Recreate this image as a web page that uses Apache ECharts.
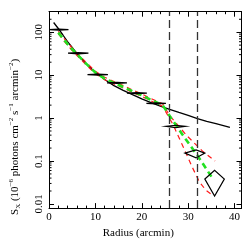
<!DOCTYPE html>
<html><head><meta charset="utf-8">
<script src="https://cdn.jsdelivr.net/npm/echarts@6/dist/echarts.min.js"></script>
<style>html,body{margin:0;padding:0;background:#fff}#c{width:245px;height:244px}</style>
</head><body><div id="c"></div>
<script>
// ---- data ----
const xTickLabels = ['0', '10', '20', '30', '40'];
const yTickLabels = ['0.01', '0.1', '1', '10', '100'];
const yMinorTicks = [0.02,0.03,0.04,0.05,0.06,0.07,0.08,0.09,
                     0.2,0.3,0.4,0.5,0.6,0.7,0.8,0.9,
                     2,3,4,5,6,7,8,9,
                     20,30,40,50,60,70,80,90,200];
const vLines = [26, 32];

// black model curve
const modelX = [1,2,3,4,5,6,7,8,9,10,12,14,16,18,20,22,24,26,28,30,32,34,36,38,39];
const modelY = [168,122,86,60,44,32,24,18.5,14.5,11.6,7.9,5.7,4.4,3.5,2.8,2.3,1.9,1.6,1.35,1.15,0.97,0.84,0.74,0.65,0.61];

// green best-fit (dashed)
const fitX = [2,3,4,5,6,7,8,10,12,14,16,18,20,22,24.5,26.4,29.4,32.1,35.5];
const fitY = [98,72,53,40,31,24,18.5,11.5,8.3,6.6,5.3,4.2,3.4,2.65,2.0,0.97,0.33,0.13,0.036];

// red upper bound (dashed)
const upX = [2,3,4,5,6,7,8,10,12,14,16,18,20,22,24.5,26,29.7,33.1,35.8];
const upY = [104,77,57,43,33,25.7,19.8,12.3,8.9,7.1,5.7,4.5,3.65,2.85,2.15,1.15,0.39,0.17,0.10];

// red lower bound (dashed)
const loX = [2,3,4,5,6,7,8,10,12,14,16,18,20,22,24.5,26.7,28.3,29.7,30.8,32.4,33.8,35.5];
const loY = [92,67.5,49.5,37.5,29,22.5,17.3,10.8,7.8,6.2,5.0,3.95,3.2,2.5,1.88,0.72,0.3,0.14,0.075,0.033,0.021,0.0153];

// measured points: diamonds (x range, y range)
const ptXLo = [0, 4.1, 8.3, 12.5, 16.8, 21.0, 25.2, 29.3, 33.6];
const ptX   = [2.1, 6.3, 10.5, 14.65, 18.95, 23.1, 27.3, 31.7, 35.7];
const ptXHi = [4.2, 8.5, 12.7, 16.8, 21.1, 25.2, 29.4, 33.6, 37.8];
const ptY   = [115, 32.4, 10.3, 6.6, 3.8, 2.2, 0.64, 0.153, 0.038];
const ptYLo = [112, 31.4, 10.0, 6.4, 3.7, 2.13, 0.60, 0.118, 0.0153];
const ptYHi = [118, 33.4, 10.6, 6.8, 3.9, 2.27, 0.68, 0.182, 0.061];

// ---- chart ----
const FONT = 'Liberation Serif';
const chart = echarts.init(document.getElementById('c'), null, {renderer: 'canvas'});
const zip = (a, b) => a.map((v, i) => [v, b[i]]);
const near = (v, s) => Math.abs(v - Number(s)) < 1e-6 * Math.max(1, Math.abs(v));

const axLine = {show: true, onZero: false, lineStyle: {color: '#000', width: 1}};
const xBase = {type: 'value', min: 0, max: 41.5, interval: 10,
  axisLine: axLine, splitLine: {show: false},
  axisTick: {inside: true, length: 5, lineStyle: {color: '#000'}},
  minorTick: {show: true, splitNumber: 5, length: 2.5, lineStyle: {color: '#000'}}};
const yBase = {type: 'log', logBase: 10, min: 0.008, max: 300,
  axisLine: axLine, splitLine: {show: false}, minorTick: {show: false},
  axisTick: {inside: true, length: 5, lineStyle: {color: '#000'}}};

const sup = {fontSize: 7, fontFamily: FONT, color: '#000', verticalAlign: 'top', lineHeight: 14};
const sub = {fontSize: 7, fontFamily: FONT, color: '#000', verticalAlign: 'bottom', lineHeight: 14};
const main = {fontSize: 11, fontFamily: FONT, color: '#000', lineHeight: 14};

const lineSeries = (x, y, color, width, dash) => ({
  type: 'line', data: zip(x, y), showSymbol: false, symbol: 'none', smooth: false,
  lineStyle: {color: color, width: width, type: dash}, z: 3, silent: true, clip: true
});

chart.setOption({
  animation: false,
  grid: {left: 36.5, right: 3.5, top: 11.7, bottom: 21.3},
  xAxis: [
    Object.assign({}, xBase, {position: 'bottom',
      name: 'Radius (arcmin)', nameLocation: 'middle', nameGap: 12,
      nameTextStyle: {fontSize: 11, fontFamily: FONT, color: '#000', padding: [0, 14, 0, 0]},
      axisLabel: {show: true, margin: 4, fontSize: 11, fontFamily: FONT, color: '#000',
        formatter: v => (xTickLabels.find(s => near(v, s)) || '')}}),
    Object.assign({}, xBase, {position: 'top', axisLabel: {show: false}})
  ],
  yAxis: [
    Object.assign({}, yBase, {position: 'left',
      name: '{m|S}{sb|X}{m| (10}{sp|−6}{m| photons cm}{sp|−2}{m| s}{sp|−1}{m| arcmin}{sp|−2}{m|)}',
      nameLocation: 'middle', nameGap: 27,
      nameTextStyle: {rich: {m: main, sp: sup, sb: sub}, padding: [0, 54, 0, 0]},
      axisLabel: {show: true, rotate: 90, margin: 4, fontSize: 11, fontFamily: FONT, color: '#000',
        formatter: v => (yTickLabels.find(s => near(v, s)) || '')}}),
    Object.assign({}, yBase, {position: 'right', axisLabel: {show: false}})
  ],
  series: [
    {
      type: 'custom', silent: true, clip: false, z: 1,
      data: yMinorTicks.map(v => [0, v]), encode: {x: 0, y: 1},
      renderItem: (params, api) => {
        const cs = params.coordSys;
        const p = api.coord([0, api.value(1)]);
        const st = {stroke: '#000', lineWidth: 1};
        return {type: 'group', children: [
          {type: 'line', shape: {x1: cs.x, y1: p[1], x2: cs.x + 2.5, y2: p[1]}, style: st},
          {type: 'line', shape: {x1: cs.x + cs.width, y1: p[1], x2: cs.x + cs.width - 2.5, y2: p[1]}, style: st}
        ]};
      }
    },
    {
      type: 'line', data: [], silent: true,
      markLine: {symbol: 'none', silent: true, label: {show: false},
        lineStyle: {color: '#333', width: 1.3, type: [8, 4]},
        data: vLines.map(v => ({xAxis: v}))}
    },
    lineSeries(modelX, modelY, '#000', 1.3, 'solid'),
    lineSeries(upX, upY, '#ff1a1a', 1.2, [5, 4]),
    lineSeries(loX, loY, '#ff1a1a', 1.2, [5, 4]),
    lineSeries(fitX, fitY, '#22e022', 2.6, [6, 4]),
    {
      type: 'custom', silent: true, clip: true, z: 4,
      data: ptX.map((x, i) => [ptXLo[i], x, ptXHi[i], ptY[i], ptYLo[i], ptYHi[i]]),
      encode: {x: [0, 1, 2], y: [3, 4, 5]},
      renderItem: (params, api) => {
        const l = api.coord([api.value(0), api.value(3)]);
        const t = api.coord([api.value(1), api.value(5)]);
        const r = api.coord([api.value(2), api.value(3)]);
        const b = api.coord([api.value(1), api.value(4)]);
        return {type: 'polygon', shape: {points: [l, t, r, b]},
          style: {fill: 'none', stroke: '#000', lineWidth: 1.2}};
      }
    }
  ]
});
</script></body></html>
